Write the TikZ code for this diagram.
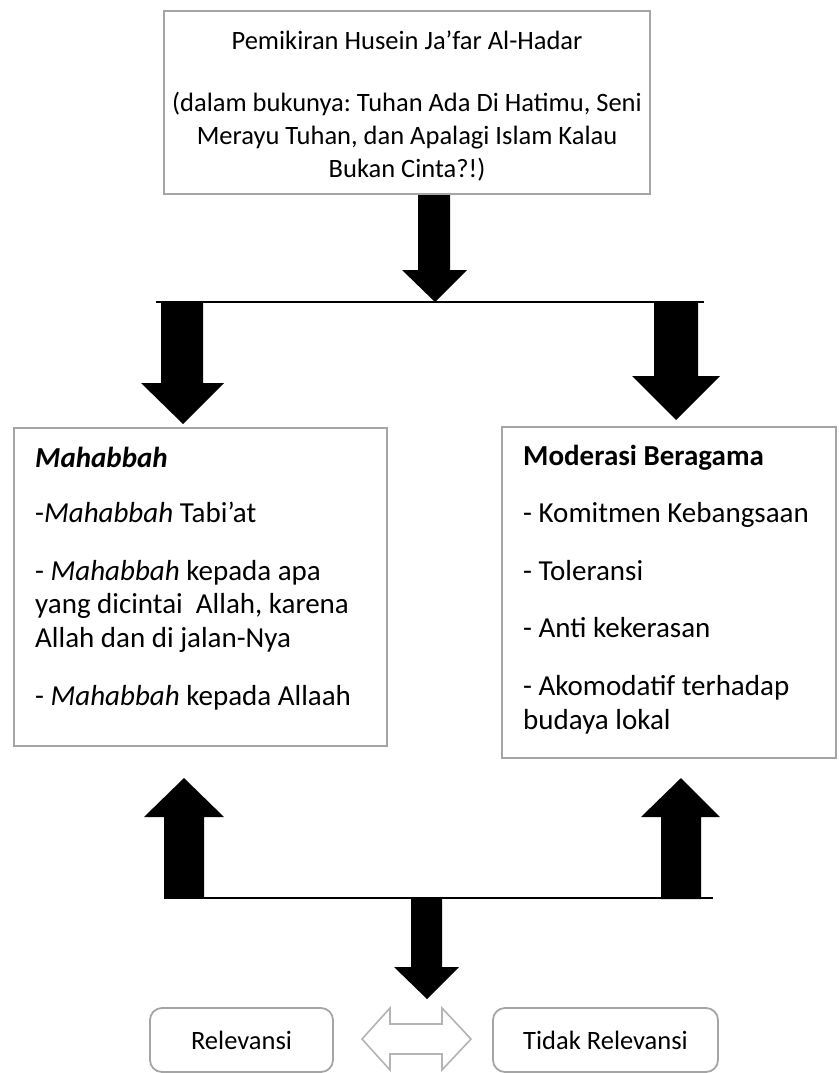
\documentclass[tikz,border=0pt]{standalone}
\usepackage{fontspec}
\setmainfont{Carlito}
\frenchspacing
\definecolor{boxgray}{HTML}{A5A5A5}
\definecolor{dblgray}{HTML}{B4B4B4}
\begin{document}
\begin{tikzpicture}[x=1pt,y=-1pt,
  box/.style={draw=boxgray, line width=1.8pt, inner sep=0pt},
  rbox/.style={box, rounded corners=12pt},
  txt/.style={anchor=base west, inner sep=0pt, font=\fontsize{29}{33}\selectfont},
  stxt/.style={anchor=base, inner sep=0pt, font=\fontsize{26.5}{33}\selectfont},
  blk/.style={fill=black, draw=none},
  hline/.style={draw=black, line width=1.4pt},
]
\useasboundingbox (0,0) rectangle (838,1073);

% boxes
\node[box, minimum width=486pt, minimum height=183pt] (topbox) at (407,102.5) {};
\node[box, minimum width=373pt, minimum height=318pt] (leftbox) at (200.5,587) {};
\node[box, minimum width=334pt, minimum height=331pt] (rightbox) at (669,592.5) {};
\node[rbox, minimum width=183pt, minimum height=64pt] (rel) at (241.5,1040) {};
\node[rbox, minimum width=225pt, minimum height=64pt] (trel) at (605.5,1040) {};

% top box text
\node[stxt] (t1) at (407,49) {Pemikiran Husein Ja’far Al-Hadar};
\node[stxt] (t2) at (407,111) {(dalam bukunya: Tuhan Ada Di Hatimu, Seni};
\node[stxt] (t3) at (407,144) {Merayu Tuhan, dan Apalagi Islam Kalau};
\node[stxt] (t4) at (407,177) {Bukan Cinta?!)};

% left box text
\node[txt] (m0) at (35,467) {\textbf{\textit{Mahabbah}}};
\node[txt] (m1) at (35,522) {-\textit{Mahabbah} Tabi’at};
\node[txt] (m2) at (35,580) {- \textit{Mahabbah} kepada apa};
\node[txt] (m3) at (35,613) {yang dicintai\ \ Allah, karena};
\node[txt] (m4) at (35,647) {Allah dan di jalan-Nya};
\node[txt] (m5) at (35,705) {- \textit{Mahabbah} kepada Allaah};

% right box text
\node[txt] (r0) at (523,465) {\textbf{Moderasi Beragama}};
\node[txt] (r1) at (523,522) {- Komitmen Kebangsaan};
\node[txt] (r2) at (523,580) {- Toleransi};
\node[txt] (r3) at (523,637) {- Anti kekerasan};
\node[txt] (r4) at (523,695) {- Akomodatif terhadap};
\node[txt] (r5) at (523,729) {budaya lokal};

% bottom labels
\node[stxt] (relt) at (241.5,1049) {Relevansi};
\node[stxt] (trelt) at (605.5,1049) {Tidak Relevansi};

% horizontal lines
\coordinate (ha) at (156,302);
\coordinate (hb) at (704,302);
\draw[hline] (ha) -- (hb);
\coordinate (hc) at (164,898);
\coordinate (hd) at (713,898);
\draw[hline] (hc) -- (hd);

% block arrows
\fill[blk] (418,195) -- (450,195) -- (450,270) -- (467,270) -- (435,302) -- (402,270) -- (418,270) -- cycle;
\fill[blk] (161,303) -- (203,303) -- (203,383) -- (224,383) -- (183,424) -- (141,383) -- (161,383) -- cycle;
\fill[blk] (654,302) -- (698,302) -- (698,376) -- (720,376) -- (676,420) -- (632,376) -- (654,376) -- cycle;
\fill[blk] (164,898) -- (204,898) -- (204,817) -- (224,817) -- (184,778) -- (144,817) -- (164,817) -- cycle;
\fill[blk] (661,899) -- (701,899) -- (701,817) -- (720,817) -- (681,778) -- (641,817) -- (661,817) -- cycle;
\fill[blk] (411,897) -- (442,897) -- (442,967) -- (459,967) -- (427,999) -- (394,967) -- (411,967) -- cycle;

% double arrow
\draw[draw=dblgray, fill=white, line width=1.6pt, line join=miter]
  (362,1039) -- (390,1008) -- (390,1024) -- (442,1024) -- (442,1008) -- (471,1039)
  -- (442,1070) -- (442,1054) -- (390,1054) -- (390,1070) -- cycle;
\end{tikzpicture}
\end{document}
